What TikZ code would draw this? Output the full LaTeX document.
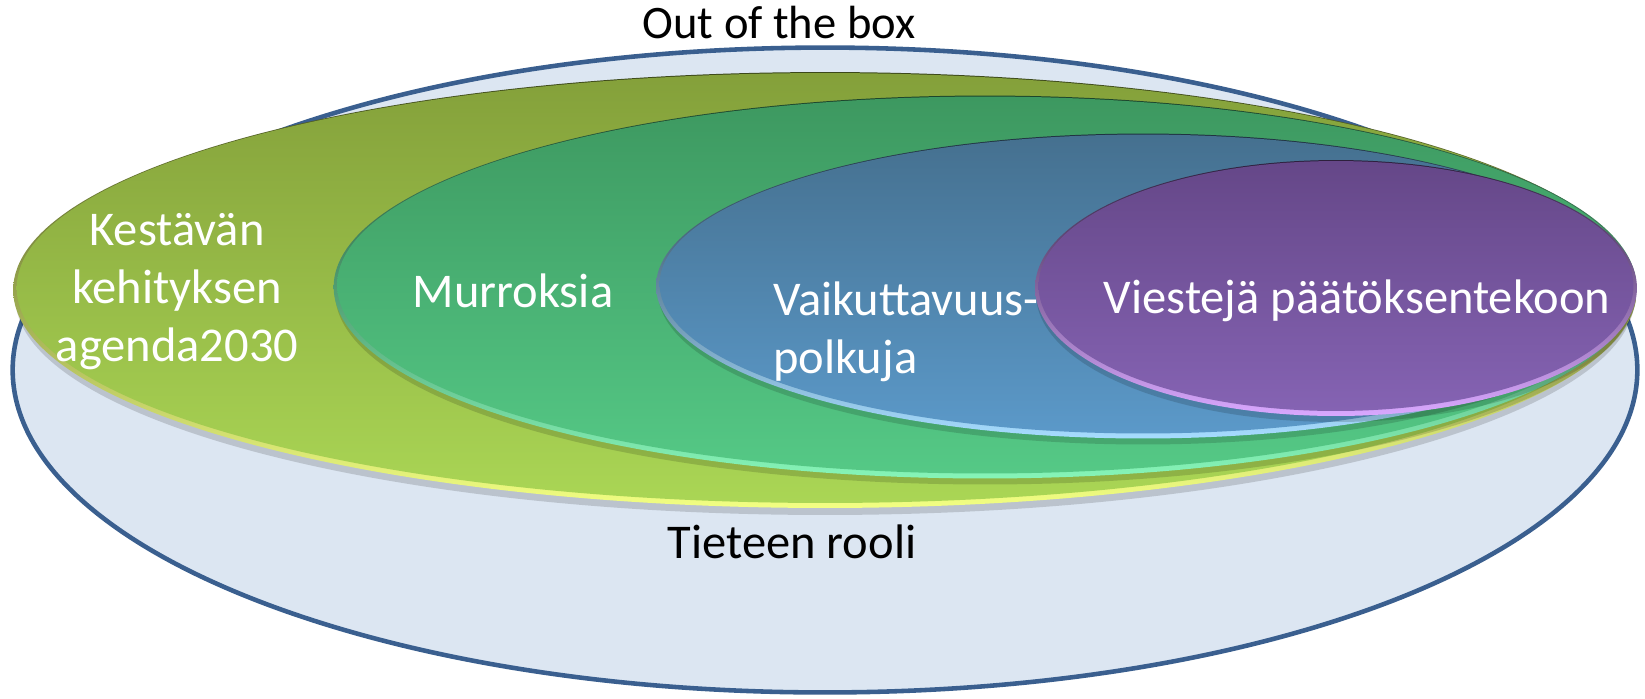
\documentclass[tikz,border=0pt]{standalone}
\usepackage{fontspec}
\setmainfont{Carlito}
\usetikzlibrary{shapes.geometric, positioning}

\definecolor{skyFill}{HTML}{DCE6F2}
\definecolor{skyLine}{HTML}{3A5F8F}
\definecolor{agendaTop}{HTML}{84A03A}
\definecolor{agendaBot}{HTML}{AAD655}
\definecolor{agendaRim}{HTML}{F2FF82}
\definecolor{murrosTop}{HTML}{3D9860}
\definecolor{murrosBot}{HTML}{55C986}
\definecolor{murrosRim}{HTML}{86F5B8}
\definecolor{polkuTop}{HTML}{45708F}
\definecolor{polkuBot}{HTML}{5B99C9}
\definecolor{polkuRim}{HTML}{A6DCFF}
\definecolor{viestiTop}{HTML}{654788}
\definecolor{viestiBot}{HTML}{8563B3}
\definecolor{viestiRim}{HTML}{D9A8FF}

\begin{document}
\begin{tikzpicture}[x=0.02cm, y=-0.02cm,
    ring/.style={ellipse, inner sep=0pt, outer sep=0pt},
    castshadow/.style={ring, fill=black, fill opacity=0.15},
    bevel/.style={ring, top color=#1Top!45!black, bottom color=#1Rim},
    body/.style={ring, top color=#1Top, bottom color=#1Bot},
    lbl/.style={font=\fontsize{27.6}{33}\selectfont, inner sep=0pt, text=white},
    outlbl/.style={lbl, text=black}
]
    \useasboundingbox (0,0) rectangle (1645,698);

    % Tieteen rooli (outer)
    \node [ring, draw=skyLine, line width=2.6pt, fill=skyFill, minimum width=32.5cm, minimum height=12.9cm] (tiede) at (825,370) {};

    % Kestävän kehityksen agenda2030
    \node [castshadow, minimum width=32.4cm, minimum height=8.72cm] (agenda-shadow) at (825,297) {};
    \node [bevel=agenda, minimum width=32.48cm, minimum height=8.72cm] (agenda-rim) at (825,290) {};
    \node [body=agenda, minimum width=32.34cm, minimum height=8.6cm] (agenda) at (825,288) {};

    % Murroksia
    \node [castshadow, minimum width=26cm, minimum height=7.66cm] (murros-shadow) at (985,293) {};
    \node [bevel=murros, minimum width=26.06cm, minimum height=7.66cm] (murros-rim) at (985,287) {};
    \node [body=murros, minimum width=25.92cm, minimum height=7.54cm] (murros) at (985,285) {};

    % Vaikuttavuuspolkuja
    \node [castshadow, minimum width=19.4cm, minimum height=6.1cm] (polku-shadow) at (1143,292) {};
    \node [bevel=polku, minimum width=19.48cm, minimum height=6.1cm] (polku-rim) at (1143,286) {};
    \node [body=polku, minimum width=19.34cm, minimum height=5.98cm] (polku) at (1143,284) {};

    % Viestejä päätöksentekoon
    \node [castshadow, minimum width=12cm, minimum height=5.12cm] (viesti-shadow) at (1336,294) {};
    \node [bevel=viesti, minimum width=12.04cm, minimum height=5.12cm] (viesti-rim) at (1336,288) {};
    \node [body=viesti, minimum width=11.9cm, minimum height=5cm] (viesti) at (1336,286) {};

    % Labels
    \node [outlbl, font=\fontsize{26.5}{32}\selectfont, anchor=base] (out-box) at (779,38) {Out of the box};
    \node [outlbl, anchor=base] (rooli) at (792,558) {Tieteen rooli};
    \node [lbl, align=center] (agenda-txt) at (177,292) {Kestävän\\kehityksen\\agenda2030};
    \node [lbl, anchor=base] (murros-txt) at (513,307) {Murroksia};
    \node [lbl, align=left, anchor=west] (polku-txt) at (773,332) {Vaikuttavuus-\\polkuja};
    \node [lbl, anchor=base] (viesti-txt) at (1357,313) {Viestejä päätöksentekoon};

\end{tikzpicture}
\end{document}
